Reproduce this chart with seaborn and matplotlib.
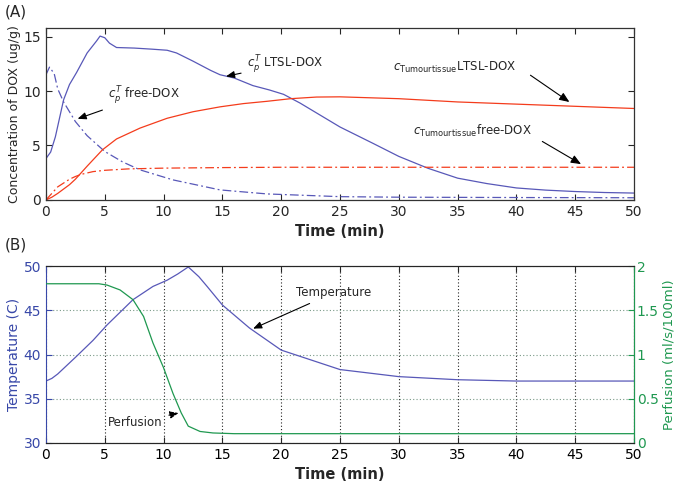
import matplotlib
matplotlib.use("Agg")
import numpy as np
import pandas as pd
import seaborn as sns
import matplotlib.pyplot as plt

sns.set_style("ticks")
plt.rcParams['font.family'] = ['DejaVu Sans']

# ---- panel A data ----
t_lp = [0, 0.4, 0.8, 1.5, 2.0, 2.6, 3.5, 4.3, 4.6, 5.0, 5.4, 6.0, 7.5, 9.0, 10.3, 11.1,
        12.5, 14.0, 14.8, 16.0, 17.6, 19.0, 20.2, 21.6, 23.3, 25.0, 27.8, 30.0, 32.5,
        35.0, 37.5, 40.0, 42.5, 45.0, 47.5, 50.0]
c_lp = [3.8, 4.4, 5.8, 9.2, 10.6, 11.7, 13.5, 14.6, 15.05, 14.9, 14.4, 14.0, 13.95, 13.85,
        13.75, 13.5, 12.75, 11.9, 11.5, 11.2, 10.5, 10.1, 9.7, 8.9, 7.8, 6.7, 5.2, 4.0, 2.9,
        2.0, 1.5, 1.1, 0.9, 0.77, 0.68, 0.63]

t_fp = [0, 0.3, 0.7, 1.0, 1.5, 2.5, 3.5, 5.0, 6.5, 8.0, 10.8, 14.8, 18.8, 25.0, 30.0, 40.0, 50.0]
c_fp = [11.5, 12.2, 11.6, 10.2, 9.0, 7.2, 5.9, 4.45, 3.5, 2.76, 1.84, 0.92, 0.55, 0.3, 0.25, 0.22, 0.2]

t_lt = [0, 0.5, 1.0, 2.0, 2.5, 3.5, 4.8, 6.0, 8.0, 10.3, 12.5, 14.8, 16.8, 18.8, 20.8,
        23.0, 25.0, 30.0, 35.0, 40.0, 45.0, 50.0]
c_lt = [0.0, 0.25, 0.6, 1.4, 1.9, 3.1, 4.6, 5.6, 6.6, 7.5, 8.1, 8.55, 8.85, 9.06, 9.3,
        9.45, 9.47, 9.3, 9.0, 8.8, 8.6, 8.4]

t_ft = [0, 0.5, 1.0, 2.0, 2.5, 3.0, 4.0, 5.0, 7.0, 10.0, 15.0, 20.0, 30.0, 40.0, 50.0]
c_ft = [0.0, 0.6, 1.2, 1.9, 2.15, 2.35, 2.6, 2.72, 2.85, 2.92, 2.97, 3.0, 3.0, 3.0, 3.0]

# ---- panel B data ----
t_temp = [0, 0.5, 1.0, 2.6, 4.0, 5.2, 7.4, 9.1, 10.3, 11.2, 12.1, 13.0, 13.7, 15.0,
          17.3, 20.0, 22.5, 25.0, 30.0, 35.0, 40.0, 50.0]
temp = [37.0, 37.3, 37.8, 39.8, 41.6, 43.35, 46.2, 47.7, 48.4, 49.1, 49.9, 48.8, 47.7,
        45.6, 43.0, 40.5, 39.4, 38.3, 37.5, 37.15, 37.0, 37.0]

t_perf = [0, 2.0, 4.5, 5.2, 6.3, 7.4, 8.3, 9.1, 10.0, 10.8, 11.5, 12.1, 13.1, 14.2, 16.0, 50.0]
perf = [1.8, 1.8, 1.8, 1.785, 1.73, 1.62, 1.43, 1.13, 0.85, 0.56, 0.34, 0.19, 0.13, 0.113, 0.105, 0.105]

blue = "#5858b8"
red = "#f43c1c"
green = "#1f9850"
dashdot = (0, (7, 2.5, 1.5, 2.5))

fig = plt.figure(figsize=(6.81, 4.90), dpi=100)
axA = fig.add_axes([0.0675, 0.592, 0.8635, 0.351])
axB = fig.add_axes([0.0675, 0.096, 0.8635, 0.361])

# Panel A
sns.lineplot(x=t_lp, y=c_lp, ax=axA, color=blue, lw=0.9)
sns.lineplot(x=t_fp, y=c_fp, ax=axA, color=blue, lw=0.9, linestyle=dashdot)
sns.lineplot(x=t_lt, y=c_lt, ax=axA, color=red, lw=0.9)
sns.lineplot(x=t_ft, y=c_ft, ax=axA, color=red, lw=0.9, linestyle=dashdot)
axA.set_xlim(0, 50)
axA.set_ylim(0, 15.8)
axA.set_xticks(range(0, 51, 5))
axA.set_yticks([0, 5, 10, 15])
axA.tick_params(direction="in", top=True, right=True, labelsize=10, length=4, width=0.8)
axA.set_xlabel("Time (min)", fontsize=10.5, fontweight="semibold")
axA.set_ylabel("Concentration of DOX (ug/g)", fontsize=9, labelpad=2)
for s in axA.spines.values():
    s.set_color("#333333")
    s.set_linewidth(0.9)

arr = dict(arrowstyle="-|>,head_length=0.6,head_width=0.25", color="black", lw=0.8)
axA.annotate(r"$c_p^T$ LTSL-DOX", xy=(15.08, 11.3), xytext=(17.1, 12.5),
             fontsize=8.5, arrowprops=arr, va="center", ha="left")
axA.annotate(r"$c_p^T$ free-DOX", xy=(2.47, 7.37), xytext=(5.3, 9.6),
             fontsize=8.5, arrowprops=arr, va="center", ha="left")
axA.text(29.5, 12.2, r"$c_{\mathregular{Tumourtissue}}$LTSL-DOX", fontsize=8.5, va="center")
axA.annotate("", xy=(44.7, 8.85), xytext=(41.0, 11.6), arrowprops=arr)
axA.text(31.2, 6.3, r"$c_{\mathregular{Tumourtissue}}$free-DOX", fontsize=8.5, va="center")
axA.annotate("", xy=(45.7, 3.16), xytext=(42.0, 5.5), arrowprops=arr)

# Panel B
sns.lineplot(x=t_temp, y=temp, ax=axB, color=blue, lw=0.9)
axB.set_xlim(0, 50)
axB.set_ylim(30, 50)
axB.set_xticks(range(0, 51, 5))
axB.set_yticks([30, 35, 40, 45, 50])
axB.grid(True, axis="x", linestyle=(0, (1, 2)), color="#222222", lw=0.8)
axB.grid(True, axis="y", linestyle=(0, (1, 2)), color="#7a9a88", lw=0.8)
axB.tick_params(direction="in", top=True, labelsize=10, length=4, width=0.8)
axB.tick_params(axis="y", colors="#3848a8", labelcolor="#3848a8")
axB.tick_params(axis="x", labelcolor="black")
axB.set_xlabel("Time (min)", fontsize=10.5, fontweight="semibold")
axB.set_ylabel("Temperature (C)", fontsize=10, color="#3848a8", labelpad=2)

axB2 = axB.twinx()
sns.lineplot(x=t_perf, y=perf, ax=axB2, color=green, lw=0.9)
axB2.set_ylim(0, 2)
axB2.set_yticks([0, 0.5, 1, 1.5, 2])
axB2.set_yticklabels(["0", "0.5", "1", "1.5", "2"])
axB2.tick_params(axis="y", direction="in", colors=green, labelsize=10, length=4, width=0.8, pad=2)
axB2.set_ylabel("Perfusion (ml/s/100ml)", fontsize=9.5, color=green, labelpad=3)
axB2.spines["right"].set_color(green)
for s in ["top", "left", "bottom"]:
    axB.spines[s].set_color("#333333")
axB.spines["left"].set_color("#3848a8")
axB2.spines["left"].set_visible(False)

axB.annotate("Temperature", xy=(17.4, 42.8), xytext=(21.3, 47.0),
             fontsize=8.5, arrowprops=arr, va="center", ha="left")
axB.annotate("Perfusion", xy=(11.5, 33.45), xytext=(5.3, 32.3),
             fontsize=8.5, va="center", ha="left",
             arrowprops=dict(arrowstyle="-|>,head_length=0.6,head_width=0.25",
                             color="black", lw=0.8, linestyle="--"))

fig.text(0.007, 0.975, "(A)", fontsize=11, va="center")
fig.text(0.007, 0.50, "(B)", fontsize=11, va="center")

fig.savefig("out.png", dpi=100)
